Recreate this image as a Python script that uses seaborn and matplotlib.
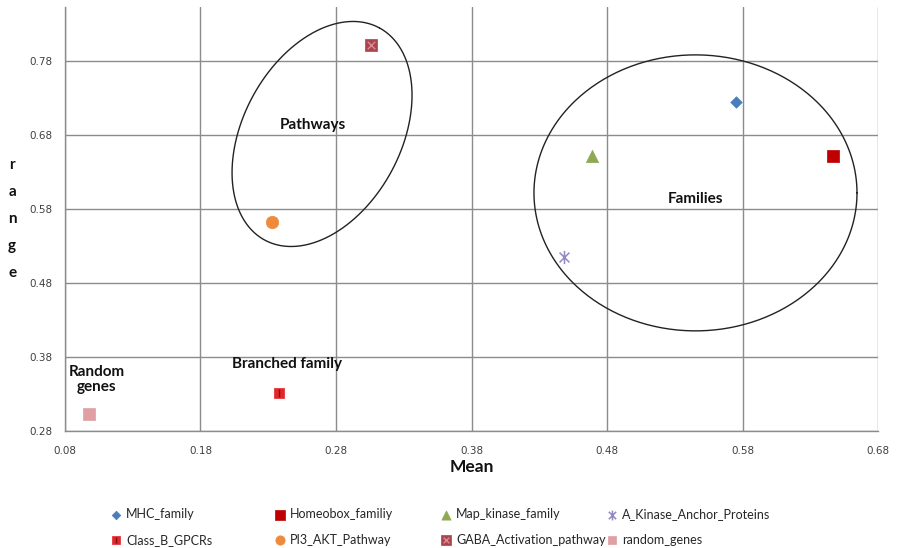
import matplotlib
matplotlib.use("Agg")
import matplotlib.pyplot as plt
from matplotlib.path import Path
from matplotlib.legend_handler import HandlerTuple
import numpy as np
import pandas as pd
import seaborn as sns

# Gene-set summary statistics: mean vs. range
series = ["MHC_family", "Homeobox_familiy", "Map_kinase_family",
          "A_Kinase_Anchor_Proteins", "Class_B_GPCRs", "PI3_AKT_Pathway",
          "GABA_Activation_pathway", "random_genes"]
mean_vals = [0.575, 0.647, 0.469, 0.4485, 0.238, 0.2325, 0.306, 0.098]
range_vals = [0.724, 0.651, 0.652, 0.5155, 0.331, 0.563, 0.801, 0.303]

x_ticks = [0.08, 0.18, 0.28, 0.38, 0.48, 0.58, 0.68]
y_ticks = [0.28, 0.38, 0.48, 0.58, 0.68, 0.78]
tick_labels_x = ["0.08", "0.18", "0.28", "0.38", "0.48", "0.58", "0.68"]
tick_labels_y = ["0.28", "0.38", "0.48", "0.58", "0.68", "0.78"]

df = pd.DataFrame({"series": series, "Mean": mean_vals, "range": range_vals})

sns.set_theme(style="white")
plt.rcParams["font.family"] = ["DejaVu Sans"]

fig = plt.figure(figsize=(8.97, 5.48), dpi=100)
ax = fig.add_axes([65 / 897, 1 - 431 / 548, 813 / 897, 424 / 548])

# asterisk-like marker: vertical bar crossed by an X
star = Path([(0, -1), (0, 1), (-0.75, -0.75), (0.75, 0.75), (-0.75, 0.75), (0.75, -0.75)],
            [Path.MOVETO, Path.LINETO] * 3)

styles = {
    "MHC_family": dict(marker="D", color="#4A7EBB", s=34),
    "Homeobox_familiy": dict(marker="s", color="#C00000", s=80),
    "Map_kinase_family": dict(marker="^", color="#8FA855", s=78),
    "A_Kinase_Anchor_Proteins": dict(marker=star, color="#9189C2", s=90),
    "Class_B_GPCRs": dict(marker="s", color="#E3262A", s=62),
    "PI3_AKT_Pathway": dict(marker="o", color="#EE8A3C", s=80),
    "GABA_Activation_pathway": dict(marker="s", color="#A8454F", s=78),
    "random_genes": dict(marker="s", color="#E0A0A3", s=64),
}

handles = {}
for name in series:
    st = styles[name]
    sub = df[df["series"] == name]
    lw = 1.1 if name == "A_Kinase_Anchor_Proteins" else 0.5
    sns.scatterplot(data=sub, x="Mean", y="range", marker=st["marker"],
                    color=st["color"], s=st["s"], edgecolor=st["color"],
                    linewidth=lw, ax=ax, zorder=4, legend=False)
    handles[name] = ax.collections[-1]

# inner details of two square markers
gaba = df[df["series"] == "GABA_Activation_pathway"]
ov_gaba = ax.scatter(gaba["Mean"], gaba["range"], marker="x", s=30,
                     color="#DC8A90", linewidths=1.0, zorder=5)
gpcr = df[df["series"] == "Class_B_GPCRs"]
ov_gpcr = ax.scatter(gpcr["Mean"], gpcr["range"], marker="|", s=40,
                     color="#7A1414", linewidths=1.0, zorder=5)
handles["GABA_Activation_pathway"] = (handles["GABA_Activation_pathway"], ov_gaba)
handles["Class_B_GPCRs"] = (handles["Class_B_GPCRs"], ov_gpcr)

# group outlines
t = np.linspace(0, 2 * np.pi, 400)
# Pathways: tilted ellipse given by conjugate semi-axis vectors
pc = (0.2697, 0.6814)
pu = (0.0423, 0.1434)
pv = (-0.0512, 0.0506)
ax.plot(pc[0] + pu[0] * np.cos(t) + pv[0] * np.sin(t),
        pc[1] + pu[1] * np.cos(t) + pv[1] * np.sin(t),
        color="#222222", lw=1.0, zorder=3)
# Families
fc = (0.5453, 0.6018)
fa, fb = 0.1192, 0.1865
ax.plot(fc[0] + fa * np.cos(t), fc[1] + fb * np.sin(t),
        color="#222222", lw=1.0, zorder=3)

lab_font = dict(fontsize=11, fontweight="bold", family=["Lato", "DejaVu Sans"],
                color="#111111", ha="center", va="center", zorder=6)
ax.text(0.263, 0.694, "Pathways", **lab_font)
ax.text(0.545, 0.5935, "Families", **lab_font)
ax.text(0.2438, 0.3705, "Branched family", **lab_font)
ax.text(0.1036, 0.349, "Random\ngenes", linespacing=1.1, **lab_font)

ax.set_xlim(0.08, 0.68)
ax.set_ylim(0.28, 0.853)
ax.set_xticks(x_ticks)
ax.set_xticklabels(tick_labels_x)
ax.set_yticks(y_ticks)
ax.set_yticklabels(tick_labels_y)
ax.grid(True, color="#8C8C8C", lw=1.0)
ax.set_axisbelow(True)
for side in ("top", "right"):
    ax.spines[side].set_visible(False)
for side in ("left", "bottom"):
    ax.spines[side].set_color("#8C8C8C")
    ax.spines[side].set_linewidth(1.0)
ax.tick_params(axis="both", direction="out", length=4, width=1, color="#8C8C8C",
               labelsize=7.5, labelcolor="#404040")
ax.tick_params(axis="x", pad=7)
ax.tick_params(axis="y", pad=5)

ax.set_xlabel("Mean", fontsize=12.5, fontweight="bold",
              family=["Lato", "DejaVu Sans"], color="#111111", labelpad=2)
ax.set_ylabel("r\na\nn\ng\ne", rotation=0, fontsize=11, fontweight="bold",
              family=["Lato", "DejaVu Sans"], color="#111111",
              linespacing=2.2, va="center", ha="center")
ax.yaxis.set_label_coords(-0.065, 0.5)

# legend: four columns of two entries each
col_x = [110, 274, 440, 606]
for i in range(4):
    names = [series[i], series[i + 4]]
    fig.legend([handles[n] for n in names], names, loc="upper left",
               bbox_to_anchor=(col_x[i] / 897, 1 - 508 / 548),
               frameon=False, prop={"family": ["Lato", "DejaVu Sans"], "size": 9.0},
               handlelength=1.0, handletextpad=0.3, labelspacing=1.1,
               borderpad=0, borderaxespad=0, scatterpoints=1, markerscale=0.75,
               handler_map={tuple: HandlerTuple(ndivide=1, pad=0)})

fig.savefig("out.png", dpi=100)
